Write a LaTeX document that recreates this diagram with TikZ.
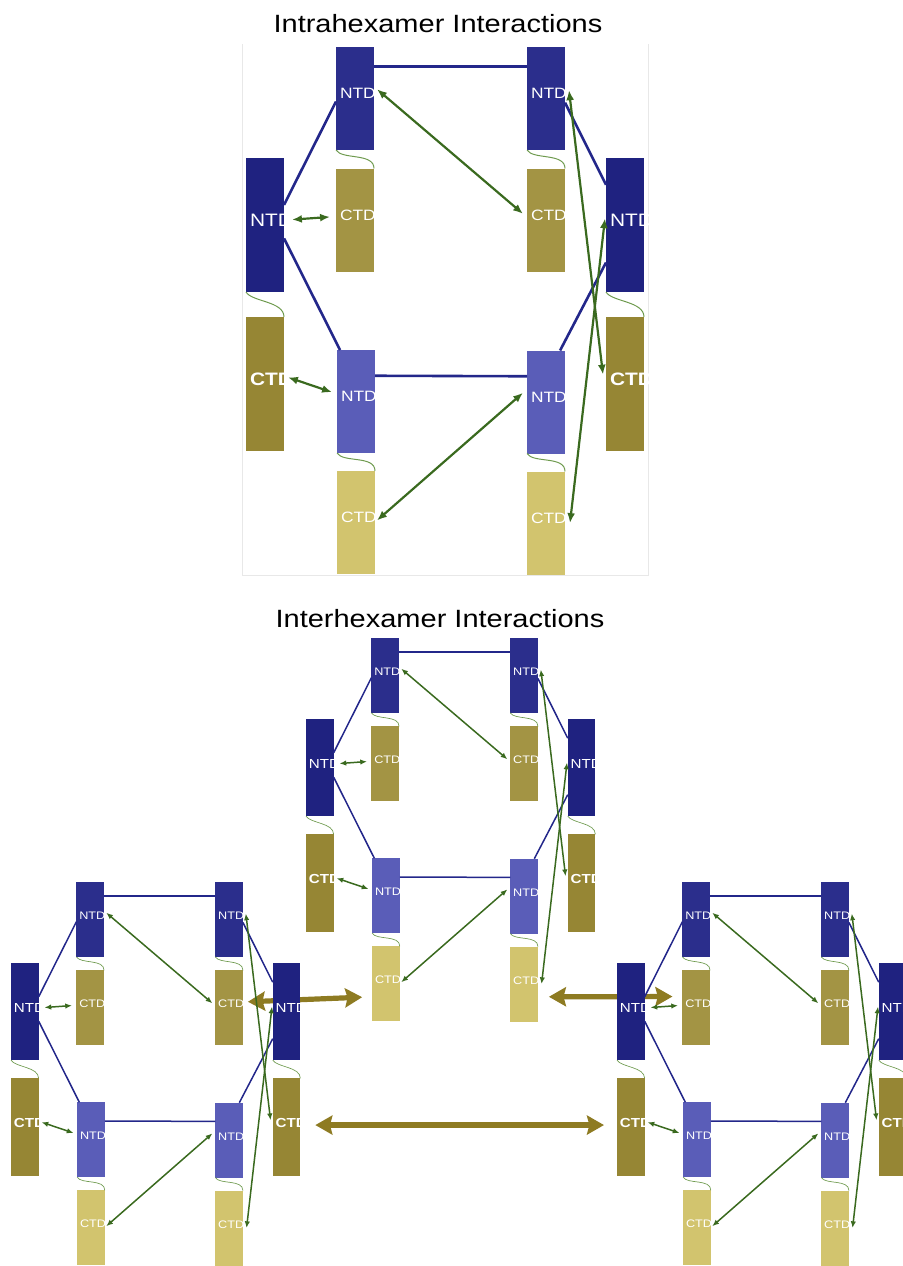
\documentclass[tikz,border=0pt]{standalone}
\usepackage{fontspec}
\setmainfont{Liberation Sans}
\newfontfamily\wfont[FakeStretch=1.16]{Liberation Sans}
\usetikzlibrary{calc,arrows.meta,backgrounds}
\definecolor{ntdA}{HTML}{2B2E8C}
\definecolor{ntdB}{HTML}{1F2280}
\definecolor{ntdC}{HTML}{5A5DB8}
\definecolor{ctdA}{HTML}{A39444}
\definecolor{ctdB}{HTML}{968634}
\definecolor{ctdC}{HTML}{D2C46E}
\definecolor{conn}{HTML}{23278A}
\definecolor{grn}{HTML}{3A6A1F}
\definecolor{lnk}{HTML}{6E9A4E}
\definecolor{olv}{HTML}{8E7B22}
\tikzset{
  dom/.style={inner xsep=2pt, inner ysep=0pt, text width=15pt, align=left,
    minimum width=19pt, text depth=5pt, text=white, outer sep=0pt},
  sm/.style={dom, minimum height=51.5pt, font=\wfont\fontsize{7.5}{8}\selectfont},
  lg/.style={dom, minimum height=67pt, font=\wfont\fontsize{9}{10}\selectfont},
  lgb/.style={dom, minimum height=67pt, font=\wfont\bfseries\fontsize{9}{10}\selectfont},
  big/.style={draw=olv, line width=2.6pt,
    {Stealth[length=8.5pt,width=9.5pt,inset=1.2pt]}-{Stealth[length=8.5pt,width=9.5pt,inset=1.2pt]}},
  frameline/.style={draw=gray!18, line width=0.5pt},
  ttl/.style={font=\wfont\fontsize{12.5}{15}\selectfont, anchor=base, inner sep=0pt}
}
% #1 prefix, #2 origin x, #3 origin y, #4 scale, #5 blue width, #6 green width
\newcommand\hexa[6]{%
\begin{scope}[shift={(#2,#3)}, scale=#4, transform shape,
  bl/.style={draw=conn, line width=#5},
  gr/.style={draw=grn, line width=#6,
    {Latex[length=0pt 4.5,width=0pt 3.6]}-{Latex[length=0pt 4.5,width=0pt 3.6]}},
  lk/.style={draw=lnk, line width=#6*0.45}]
  \node[sm, fill=ntdA] (#1-tlN) at (109,51.5) {NTD};
  \node[sm, fill=ctdA] (#1-tlC) at (109,173) {CTD};
  \node[lg, fill=ntdB] (#1-lN) at (19,178) {NTD};
  \node[lgb, fill=ctdB] (#1-lC) at (19,337) {CTD};
  \node[sm, fill=ntdC] (#1-blN) at (110,354.5) {NTD};
  \node[sm, fill=ctdC] (#1-blC) at (110,475.5) {CTD};
  \node[sm, fill=ntdA] (#1-trN) at (300,51.5) {NTD};
  \node[sm, fill=ctdA] (#1-trC) at (300,173) {CTD};
  \node[lg, fill=ntdB] (#1-rN) at (379,178) {NTD};
  \node[lgb, fill=ctdB] (#1-rC) at (379,337) {CTD};
  \node[sm, fill=ntdC] (#1-brN) at (300,355) {NTD};
  \node[sm, fill=ctdC] (#1-brC) at (300,476) {CTD};
  \foreach \a/\b in {tlN/tlC, lN/lC, blN/blC, trN/trC, rN/rC, brN/brC}
    \draw[lk] (#1-\a.south west) .. controls +(6,10) and +(0,-16) .. (#1-\b.north east);
  \draw[bl] ($(#1-tlN.north east)!0.19!(#1-tlN.south east)$) -- ($(#1-trN.north west)!0.19!(#1-trN.south west)$);
  \draw[bl] ($(#1-tlN.north west)!0.53!(#1-tlN.south west)$) -- ($(#1-lN.north east)!0.35!(#1-lN.south east)$);
  \draw[bl] ($(#1-lN.north east)!0.60!(#1-lN.south east)$) -- ($(#1-blN.north west)!0.08!(#1-blN.north east)$);
  \draw[bl] ($(#1-trN.north east)!0.54!(#1-trN.south east)$) -- ($(#1-rN.north west)!0.20!(#1-rN.south west)$);
  \draw[bl] ($(#1-rN.north west)!0.78!(#1-rN.south west)$) -- ($(#1-brN.north west)!0.87!(#1-brN.north east)$);
  \draw[bl] ($(#1-blN.north east)!0.25!(#1-blN.south east)$) -- ($(#1-brN.north west)!0.25!(#1-brN.south west)$);
  \draw[gr] ($(#1-lN.north east)!0.46!(#1-lN.south east)+(8,0)-(0,0)$) -- ($(#1-tlC.north west)!0.47!(#1-tlC.south west)+(-6,0)-(0,0)$);
  \draw[gr] ($(#1-tlN.north east)!0.41!(#1-tlN.south east)+(3,0)-(0,0)$) -- ($(#1-trC.north west)!0.44!(#1-trC.south west)+(-4,0)-(0,0)$);
  \draw[gr] ($(#1-trN.north east)!0.42!(#1-trN.south east)+(4,0)-(0,0)$) -- ($(#1-rC.north west)!0.43!(#1-rC.south west)+(-3,0)-(0,0)$);
  \draw[gr] ($(#1-rN.north west)!0.45!(#1-rN.south west)+(-1,0)-(0,0)$) -- ($(#1-brC.north east)!0.50!(#1-brC.south east)+(5,0)-(0,0)$);
  \draw[gr] ($(#1-blC.north east)!0.48!(#1-blC.south east)+(2,0)-(0,0)$) -- ($(#1-brN.north west)!0.41!(#1-brN.south west)+(-4,0)-(0,0)$);
  \draw[gr] ($(#1-lC.north east)!0.45!(#1-lC.south east)+(4,0)-(0,0)$) -- ($(#1-blN.north west)!0.41!(#1-blN.south west)+(-5,0)-(0,0)$);
\end{scope}}

\begin{document}
\begin{tikzpicture}[x=0.5pt, y=-0.5pt]
\useasboundingbox (0,0) rectangle (902,1266);
% titles
\node[ttl] (t1) at (438,32) {Intrahexamer Interactions};
\node[ttl] (t2) at (440,627) {Interhexamer Interactions};
% frame of the top panel
\draw[frameline] (242,44) -- (242,575) -- (648,575) -- (648,44);
% intrahexamer
\hexa{Hi}{246}{47}{1}{1.3pt}{1.1pt}
% interhexamer
\hexa{Hb}{306}{638}{0.727}{0.75pt}{0.75pt}
\hexa{Hl}{11}{882}{0.727}{0.75pt}{0.75pt}
\hexa{Hr}{617}{882}{0.727}{0.75pt}{0.75pt}
\begin{pgfonlayer}{background}
  \draw[big] ($(Hl-trC.north east)!0.42!(Hl-trC.south east)+(5,0)$) -- ($(Hb-blC.north west)!0.68!(Hb-blC.south west)+(-10,0)$);
  \draw[big] ($(Hb-brC.north east)!0.67!(Hb-brC.south east)+(11,0)$) -- ($(Hr-tlC.north west)!0.35!(Hr-tlC.south west)+(-10,0)$);
  \draw[big] ($(Hl-rC.north east)!0.48!(Hl-rC.south east)+(15,0)$) -- ($(Hr-lC.north west)!0.48!(Hr-lC.south west)+(-13,0)$);
\end{pgfonlayer}
\end{tikzpicture}
\end{document}
